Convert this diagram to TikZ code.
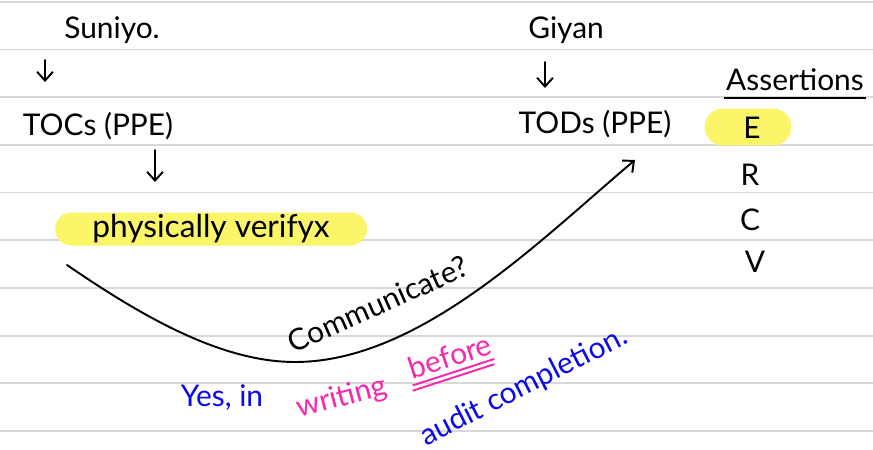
\documentclass[tikz,border=0pt]{standalone}
\usepackage{fontspec}
\setmainfont{Lato}
\usetikzlibrary{arrows.meta}
\definecolor{pcol}{RGB}{248,40,170}
\definecolor{bcol}{RGB}{10,10,235}
\definecolor{hcol}{RGB}{250,245,105}
\definecolor{lcol}{RGB}{216,216,216}
\tikzset{every picture/.style={x=0.02cm,y=-0.02cm}}
\tikzset{hand/.style={inner sep=1pt,font=\fontsize{17}{20}\selectfont}}
\tikzset{edge/.style={-{Straight Barb[length=5pt,width=9pt]},line width=1.1pt,line cap=round}}
\tikzset{rule/.style={lcol,line width=1.1pt}}
\tikzset{hilite/.style={fill=hcol,rounded corners=0.33cm,inner sep=0pt}}

\begin{document}
\begin{tikzpicture}
\useasboundingbox [fill=white] (0,0) rectangle (873,450);

\draw [rule] (0,2) -- (873,2);
\draw [rule] (0,49.5) -- (873,49.5);
\draw [rule] (0,97) -- (873,97);
\draw [rule] (0,145) -- (873,145);
\draw [rule] (0,192.5) -- (873,192.5);
\draw [rule] (0,240) -- (873,240);
\draw [rule] (0,288) -- (873,288);
\draw [rule] (0,336) -- (873,336);
\draw [rule] (0,383) -- (873,383);
\draw [rule] (0,431) -- (873,431);

\node [hand] (suniyo) at (112,30) {Suniyo.};
\node [hand] (tocs) at (98,126) {TOCs (PPE)};
\node [hand,hilite,minimum width=6.24cm,minimum height=0.66cm,font=\fontsize{18}{20}\selectfont] (phys) at (211,229) {physically verifyx};

\node [hand] (giyan) at (566,30) {Giyan};
\node [hand] (tods) at (595,124) {TODs (PPE)};

\node [hand] (assert) at (795,80) {Assertions};
\node [hilite,minimum width=1.74cm,minimum height=0.74cm,rounded corners=0.37cm] (ehl) at (748,127) {};
\node [hand] (e) at (752,128) {E};
\node [hand] (r) at (750,175) {R};
\node [hand] (c) at (750,220) {C};
\node [hand] (v) at (755,262) {V};

\coordinate (a1) at (45,60);
\coordinate (a1_) at (45,82);
\coordinate (a2) at (155,150);
\coordinate (a2_) at (155,182);
\coordinate (a3) at (545,62);
\coordinate (a3_) at (545,88);
\coordinate (cs) at (67,265);
\coordinate (cm) at (295,362);
\coordinate (ce) at (635,160);

\draw [edge] (a1) -- (a1_);
\draw [edge] (a2) -- (a2_);
\draw [edge] (a3) -- (a3_);
\draw [edge] (cs) .. controls (140,315) and (220,362) .. (cm) .. controls (420,362) and (540,240) .. (ce);

\draw [line width=1.1pt] ([yshift=-3pt]assert.south west) -- ([yshift=-3pt]assert.south east);

\node [hand,rotate=24,inner sep=0pt] (comm) at (378,304) {Communicate?};

\node [hand,bcol] (yes) at (222,398) {Yes, in};
\node [hand,pcol,rotate=15,inner sep=0pt] (writ) at (342,398) {writing};
\node [hand,pcol,rotate=18,inner sep=0pt] (bef) at (450,356) {before};
\draw [pcol,line width=1.1pt] ([yshift=-3pt]bef.south west) -- ([yshift=-3pt]bef.south east);
\draw [pcol,line width=1.1pt] ([yshift=-6pt]bef.south west) -- ([yshift=-6pt]bef.south east);
\node [hand,bcol,rotate=27,inner sep=0pt] (audit) at (524,387) {audit completion.};
\end{tikzpicture}
\end{document}
